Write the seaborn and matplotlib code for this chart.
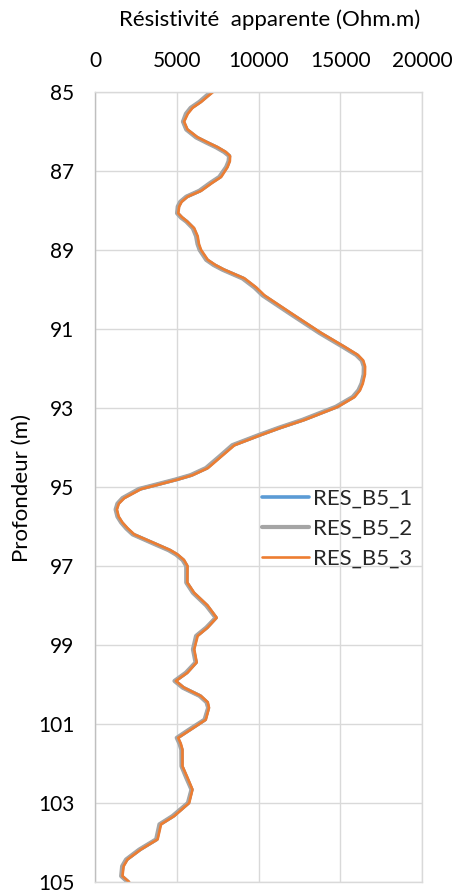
import numpy as np
import matplotlib
matplotlib.use("Agg")
import matplotlib.pyplot as plt
import seaborn as sns

# -- data
depth = [85.0, 85.12, 85.25, 85.4, 85.55, 85.75, 85.95, 86.15, 86.28, 86.4,
         86.52, 86.62, 86.75, 86.9, 87.15, 87.3, 87.5, 87.65, 87.78, 87.9,
         88.07, 88.18, 88.28, 88.45, 88.65, 88.85, 89.0, 89.25, 89.38, 89.5,
         89.72, 89.95, 90.15, 90.6, 91.1, 91.45, 91.66, 91.8, 91.95, 92.15,
         92.38, 92.55, 92.72, 92.97, 93.3, 93.5, 93.68, 93.94, 94.23, 94.52,
         94.7, 94.81, 94.95, 95.05, 95.28, 95.42, 95.57, 95.75, 95.9, 96.05,
         96.2, 96.46, 96.6, 96.71, 96.85, 97.0, 97.42, 97.68, 98.0, 98.31,
         98.56, 98.77, 99.11, 99.44, 99.7, 99.91, 100.08, 100.29, 100.45, 100.59,
         100.89, 101.14, 101.35, 101.5, 101.65, 102.07, 102.36, 102.66, 103.0, 103.33,
         103.54, 103.92, 104.18, 104.43, 104.6, 104.85, 105.0]

res_b5_1 = [7140, 6800, 6430, 5900, 5610, 5400, 5610, 6220, 6850, 7450,
            7950, 8220, 8200, 8060, 7650, 7100, 6430, 5610, 5250, 5100,
            5040, 5300, 5610, 6020, 6220, 6300, 6430, 6840, 7300, 7850,
            9080, 9800, 10300, 11930, 13770, 15200, 16020, 16350, 16460, 16450,
            16320, 16150, 15810, 14790, 12750, 11300, 10100, 8460, 7650, 6840,
            5900, 5000, 3700, 2750, 1730, 1400, 1290, 1400, 1630, 1950,
            2340, 3780, 4550, 5000, 5400, 5610, 5610, 6020, 6840, 7400,
            6840, 6220, 6020, 6180, 5610, 4900, 5400, 6430, 6850, 6930,
            6730, 5810, 5040, 5200, 5310, 5310, 5610, 5920, 5710, 4790,
            3980, 3780, 2750, 1940, 1700, 1630, 2040]

res_b5_2 = [7080, 6740, 6380, 5850, 5560, 5380, 5580, 6180, 6800, 7400,
            7900, 8200, 8170, 8020, 7600, 7050, 6380, 5580, 5210, 5060,
            5020, 5260, 5580, 5980, 6180, 6270, 6400, 6800, 7250, 7800,
            9020, 9750, 10250, 11880, 13720, 15150, 15980, 16320, 16440, 16430,
            16300, 16110, 15760, 14720, 12680, 11240, 10040, 8400, 7600, 6780,
            5840, 4920, 3620, 2680, 1680, 1370, 1260, 1370, 1600, 1910,
            2300, 3720, 4500, 4950, 5360, 5580, 5580, 5990, 6800, 7380,
            6800, 6180, 5990, 6150, 5560, 4860, 5360, 6400, 6820, 6920,
            6700, 5760, 5000, 5170, 5280, 5290, 5580, 5900, 5680, 4740,
            3940, 3740, 2700, 1900, 1660, 1600, 2000]

res_b5_3 = [7220, 6870, 6500, 5970, 5680, 5450, 5660, 6290, 6910, 7520,
            8010, 8260, 8250, 8110, 7720, 7170, 6500, 5670, 5300, 5150,
            5090, 5350, 5650, 6070, 6280, 6360, 6490, 6900, 7370, 7920,
            9150, 9870, 10370, 12000, 13840, 15270, 16090, 16410, 16520, 16510,
            16380, 16210, 15880, 14860, 12830, 11370, 10180, 8540, 7720, 6910,
            5970, 5080, 3790, 2830, 1800, 1460, 1340, 1450, 1680, 2010,
            2400, 3850, 4620, 5060, 5450, 5660, 5650, 6070, 6890, 7440,
            6890, 6280, 6070, 6220, 5660, 4950, 5450, 6480, 6900, 6970,
            6780, 5870, 5090, 5250, 5350, 5350, 5660, 5960, 5760, 4850,
            4040, 3830, 2800, 1990, 1750, 1680, 2090]

series = [("RES_B5_1", res_b5_1, "#5B9BD5", 2.6),
          ("RES_B5_2", res_b5_2, "#A5A5A5", 3.0),
          ("RES_B5_3", res_b5_3, "#ED7D31", 1.9)]

x_ticks = [0, 5000, 10000, 15000, 20000]
y_ticks = [85, 87, 89, 91, 93, 95, 97, 99, 101, 103, 105]

# -- style
sns.set_theme(style="whitegrid")
plt.rcParams['font.family'] = ['Lato', 'DejaVu Sans']
grid_c = "#D9D9D9"

W, H = 453, 892
fig = plt.figure(figsize=(W / 100, H / 100), dpi=100)
ax = fig.add_axes([95 / W, 1 - 882 / H, 327 / W, 790 / H])

for name, vals, col, lw in series:
    sns.lineplot(x=vals, y=depth, ax=ax, color=col, lw=lw, label=name,
                 sort=False, estimator=None)

ax.set_xlim(0, 20000)
ax.set_ylim(105, 85)
ax.set_xticks(x_ticks)
ax.set_yticks(y_ticks)
ax.xaxis.tick_top()
ax.tick_params(axis="both", length=0, labelsize=15, colors="#000000", pad=15)
ax.grid(True, color=grid_c, lw=1.0)
for sp in ax.spines.values():
    sp.set_color(grid_c)
    sp.set_linewidth(1.0)
ax.spines["left"].set_color("#BFBFBF")
ax.set_xlabel("")
ax.set_ylabel("")

fig.text(270 / W, 1 - 20 / H, "Résistivité  apparente (Ohm.m)", ha="center",
         va="center", fontsize=16, color="#000000")
fig.text(22 / W, 1 - 488 / H, "Profondeur (m)", ha="center", va="center",
         rotation=90, fontsize=16, color="#000000")

ax.legend(loc="upper left", bbox_to_anchor=(262 / W, 1 - 489 / H),
          bbox_transform=fig.transFigure, frameon=False, fontsize=16,
          borderpad=0, borderaxespad=0, handlelength=2.1, handletextpad=0.2,
          labelspacing=0.45)

fig.savefig("out.png", dpi=100)
